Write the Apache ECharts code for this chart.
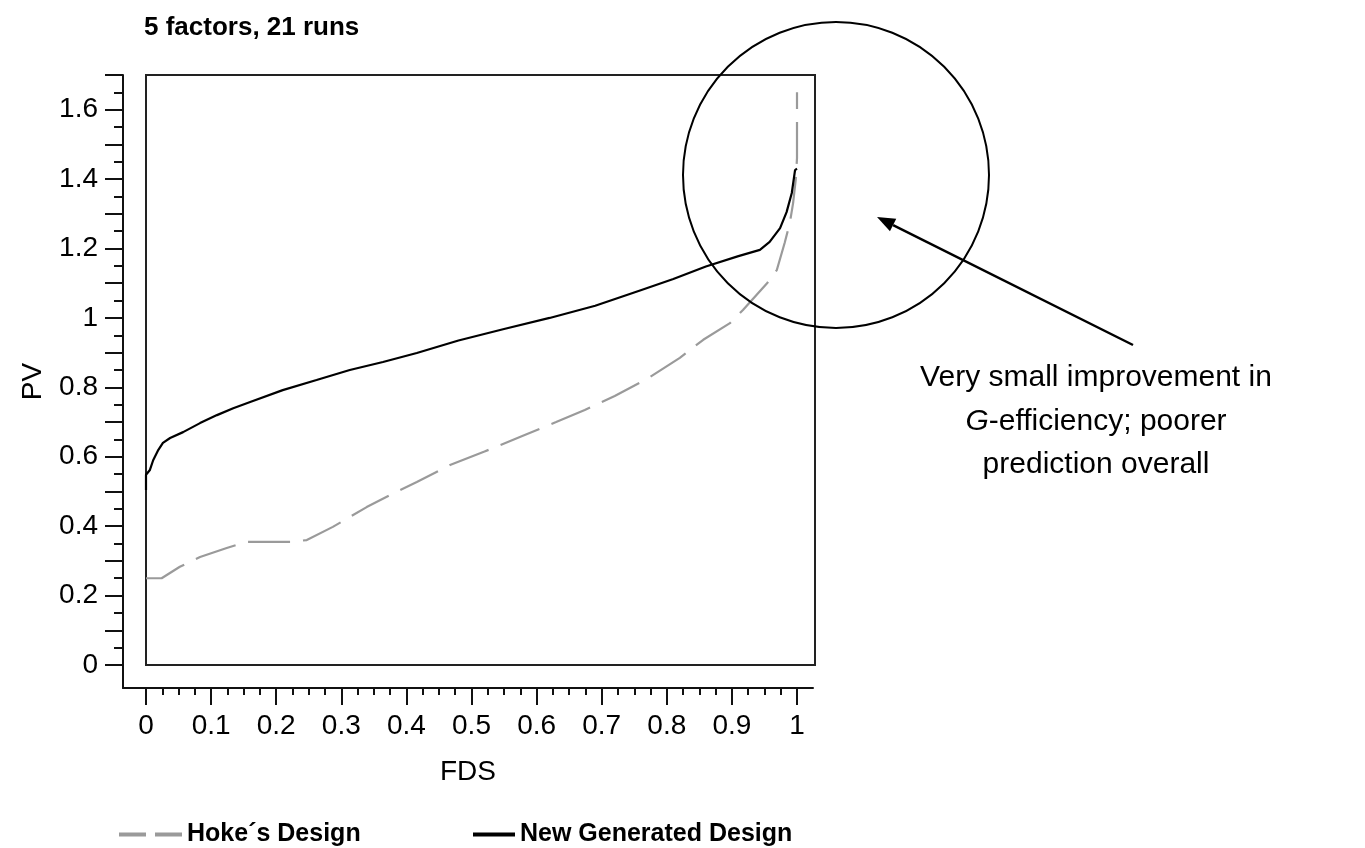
<!DOCTYPE html>
<html>
<head>
<meta charset="utf-8">
<title>5 factors, 21 runs</title>
<script src="https://cdn.jsdelivr.net/npm/echarts@6/dist/echarts.min.js"></script>
<style>
  html, body { margin: 0; padding: 0; background: #fff; }
  #chart { width: 1365px; height: 848px; }
</style>
</head>
<body>
<div id="chart"></div>
<script>
// Fraction of design space (FDS) curves of scaled prediction variance (PV)
const fdsNew = [0, 0, 0.006, 0.011, 0.019, 0.026, 0.037, 0.057, 0.083, 0.109, 0.134, 0.16, 0.21, 0.262, 0.313, 0.364, 0.416, 0.48, 0.55, 0.62, 0.69, 0.76, 0.81, 0.86, 0.91, 0.943, 0.958, 0.974, 0.984, 0.992, 0.997, 1.0];
const pvNew  = [0.504, 0.548, 0.562, 0.59, 0.62, 0.64, 0.654, 0.671, 0.697, 0.72, 0.74, 0.758, 0.792, 0.821, 0.85, 0.873, 0.899, 0.935, 0.968, 1.0, 1.035, 1.08, 1.112, 1.148, 1.178, 1.196, 1.219, 1.259, 1.305, 1.36, 1.426, 1.43];

const fdsHoke = [0, 0.024, 0.052, 0.083, 0.124, 0.155, 0.224, 0.247, 0.287, 0.339, 0.39, 0.416, 0.467, 0.52, 0.578, 0.63, 0.674, 0.72, 0.77, 0.82, 0.856, 0.897, 0.917, 0.954, 0.969, 0.981, 0.989, 0.994, 0.998, 1.0, 1.0];
const pvHoke  = [0.25, 0.25, 0.283, 0.311, 0.337, 0.355, 0.355, 0.36, 0.398, 0.455, 0.504, 0.527, 0.576, 0.615, 0.66, 0.70, 0.735, 0.775, 0.825, 0.885, 0.937, 0.985, 1.023, 1.1, 1.138, 1.216, 1.274, 1.331, 1.398, 1.46, 1.65];

// Axis ticks and labels
const xMajorTicks = [0, 0.1, 0.2, 0.3, 0.4, 0.5, 0.6, 0.7, 0.8, 0.9, 1];
const xTickLabels = ['0', '0.1', '0.2', '0.3', '0.4', '0.5', '0.6', '0.7', '0.8', '0.9', '1'];
const xMinorTicks = [0.025, 0.05, 0.075, 0.125, 0.15, 0.175, 0.225, 0.25, 0.275, 0.325, 0.35, 0.375,
  0.425, 0.45, 0.475, 0.525, 0.55, 0.575, 0.625, 0.65, 0.675, 0.725, 0.75, 0.775, 0.825, 0.85, 0.875,
  0.925, 0.95, 0.975, 1.025];
const yMajorTicks = [0, 0.1, 0.2, 0.3, 0.4, 0.5, 0.6, 0.7, 0.8, 0.9, 1, 1.1, 1.2, 1.3, 1.4, 1.5, 1.6, 1.7];
const yLabelValues = [0, 0.2, 0.4, 0.6, 0.8, 1, 1.2, 1.4, 1.6];
const yTickLabels = ['0', '0.2', '0.4', '0.6', '0.8', '1', '1.2', '1.4', '1.6'];
const yMinorTicks = [0.05, 0.15, 0.25, 0.35, 0.45, 0.55, 0.65, 0.75, 0.85, 0.95, 1.05, 1.15, 1.25, 1.35, 1.45, 1.55, 1.65];

const titleText = '5 factors, 21 runs';
const seriesHoke = 'Hoke´s Design';
const seriesNew = 'New Generated Design';
const noteLines = ['Very small improvement in', 'G-efficiency; poorer', 'prediction overall'];

const boldFace = '"Liberation Sans", Arial, sans-serif';
const plain = '"Liberation Sans", Arial, sans-serif';

// Plot frame (data area) and the detached axis frame around it
const frame = { left: 146, top: 75, width: 669, height: 590 };
const xUnit = 651;             // pixels per 1.0 FDS
const xMax = frame.width / xUnit;
const yMax = 1.7;
const yUnit = frame.height / yMax;
const axisGap = 23;            // distance between plot frame and the axis lines
const axesBox = { left: frame.left - axisGap, top: frame.top, width: 690, height: frame.height + axisGap };
const axXMin = -axisGap / xUnit;
const axXMax = (axesBox.left + axesBox.width - frame.left) / xUnit;
const axYMin = -axisGap / yUnit;

const pair = (xs, ys) => xs.map((x, i) => [x, ys[i]]);
const lbl = (vals, texts) => (v) => {
  const i = vals.findIndex(t => Math.abs(t - v) < 1e-9);
  return i >= 0 ? texts[i] : '';
};

const chart = echarts.init(document.getElementById('chart'), null, { renderer: 'canvas' });

// Annotation: circle and arrow
const circ = { cx: 836, cy: 175, r: 153 };
const arrowFrom = [1133, 345], arrowTo = [877, 217];
const dx = arrowTo[0] - arrowFrom[0], dy = arrowTo[1] - arrowFrom[1];
const len = Math.hypot(dx, dy);
const ux = dx / len, uy = dy / len;
const headLen = 18, headHalf = 7;
const bx = arrowTo[0] - headLen * ux, by = arrowTo[1] - headLen * uy;
const headPts = [arrowTo, [bx - headHalf * uy, by + headHalf * ux], [bx + headHalf * uy, by - headHalf * ux]];

const tickStyle = { color: '#111', width: 2 };
const legendText = { fontFamily: boldFace, fontWeight: 'bold', fontSize: 25, color: '#000', padding: [0, 0, 8, 0] };

chart.setOption({
  animation: false,
  backgroundColor: '#fff',
  title: {
    text: titleText,
    left: 139,
    top: 10,
    textStyle: { fontFamily: boldFace, fontWeight: 'bold', fontSize: 26, color: '#000' }
  },
  legend: [
    {
      data: [seriesHoke],
      left: 114, top: 817,
      itemWidth: 63, itemHeight: 4,
      icon: 'path://M0,0H27V4H0Z M36,0H63V4H36Z',
      textStyle: legendText,
      selectedMode: false
    },
    {
      data: [seriesNew],
      left: 468, top: 817,
      itemWidth: 42, itemHeight: 4,
      icon: 'rect',
      textStyle: legendText,
      selectedMode: false
    }
  ],
  grid: [
    { left: frame.left, top: frame.top, width: frame.width, height: frame.height,
      show: true, borderColor: '#222', borderWidth: 2, backgroundColor: 'transparent' },
    { left: axesBox.left, top: axesBox.top, width: axesBox.width, height: axesBox.height, show: false }
  ],
  xAxis: [
    { gridIndex: 0, type: 'value', min: 0, max: xMax, show: false },
    {
      gridIndex: 1, type: 'value', min: axXMin, max: axXMax, position: 'bottom',
      name: 'FDS', nameLocation: 'middle', nameGap: 70,
      nameTextStyle: { fontFamily: plain, fontSize: 28, color: '#000' },
      axisLine: { show: true, onZero: false, lineStyle: { color: '#111', width: 2 } },
      axisTick: { show: true, inside: false, length: 17, lineStyle: tickStyle, customValues: xMajorTicks },
      axisLabel: { show: true, margin: 24, customValues: xMajorTicks, formatter: lbl(xMajorTicks, xTickLabels),
        fontFamily: plain, fontSize: 28, color: '#000' },
      splitLine: { show: false }
    },
    {
      gridIndex: 1, type: 'value', min: axXMin, max: axXMax, position: 'bottom',
      axisLine: { show: false, onZero: false },
      axisTick: { show: true, inside: false, length: 7, lineStyle: tickStyle, customValues: xMinorTicks },
      axisLabel: { show: false },
      splitLine: { show: false }
    }
  ],
  yAxis: [
    { gridIndex: 0, type: 'value', min: 0, max: yMax, show: false },
    {
      gridIndex: 1, type: 'value', min: axYMin, max: yMax, position: 'left',
      name: 'PV', nameLocation: 'middle', nameGap: 76, nameRotate: 90,
      nameTextStyle: { fontFamily: plain, fontSize: 28, color: '#000' },
      axisLine: { show: true, onZero: false, lineStyle: { color: '#111', width: 2 } },
      axisTick: { show: true, inside: false, length: 18, lineStyle: tickStyle, customValues: yMajorTicks },
      axisLabel: { show: true, margin: 25, customValues: yLabelValues, formatter: lbl(yLabelValues, yTickLabels),
        fontFamily: plain, fontSize: 28, color: '#000' },
      splitLine: { show: false }
    },
    {
      gridIndex: 1, type: 'value', min: axYMin, max: yMax, position: 'left',
      axisLine: { show: false, onZero: false },
      axisTick: { show: true, inside: false, length: 9, lineStyle: tickStyle, customValues: yMinorTicks },
      axisLabel: { show: false },
      splitLine: { show: false }
    }
  ],
  series: [
    {
      name: seriesHoke, type: 'line', xAxisIndex: 0, yAxisIndex: 0,
      data: pair(fdsHoke, pvHoke),
      symbol: 'none', showSymbol: false, clip: true,
      lineStyle: { color: '#9a9a9a', width: 2.2, type: [42, 13] },
      itemStyle: { color: '#9a9a9a' }
    },
    {
      name: seriesNew, type: 'line', xAxisIndex: 0, yAxisIndex: 0,
      data: pair(fdsNew, pvNew),
      symbol: 'none', showSymbol: false, clip: true,
      lineStyle: { color: '#000', width: 2.2 },
      itemStyle: { color: '#000' }
    }
  ],
  graphic: [
    { type: 'circle', shape: { cx: circ.cx, cy: circ.cy, r: circ.r }, silent: true,
      style: { fill: null, stroke: '#000', lineWidth: 2 }, z: 10 },
    { type: 'line', shape: { x1: arrowFrom[0], y1: arrowFrom[1], x2: bx, y2: by }, silent: true,
      style: { stroke: '#000', lineWidth: 2.5 }, z: 10 },
    { type: 'polygon', shape: { points: headPts }, silent: true, style: { fill: '#000' }, z: 10 },
    { type: 'text', x: 1096, y: 378, silent: true, z: 10,
      style: { text: noteLines[0], fontFamily: plain, fontSize: 30, fill: '#000', align: 'center', verticalAlign: 'middle' } },
    { type: 'text', x: 1096, y: 422, silent: true, z: 10,
      style: { text: '{i|G}' + noteLines[1].slice(1), fontFamily: plain, fontSize: 30, fill: '#000', align: 'center', verticalAlign: 'middle',
        rich: { i: { fontStyle: 'italic', fontFamily: plain, fontSize: 30, fill: '#000' } } } },
    { type: 'text', x: 1096, y: 465, silent: true, z: 10,
      style: { text: noteLines[2], fontFamily: plain, fontSize: 30, fill: '#000', align: 'center', verticalAlign: 'middle' } }
  ]
});
</script>
</body>
</html>
